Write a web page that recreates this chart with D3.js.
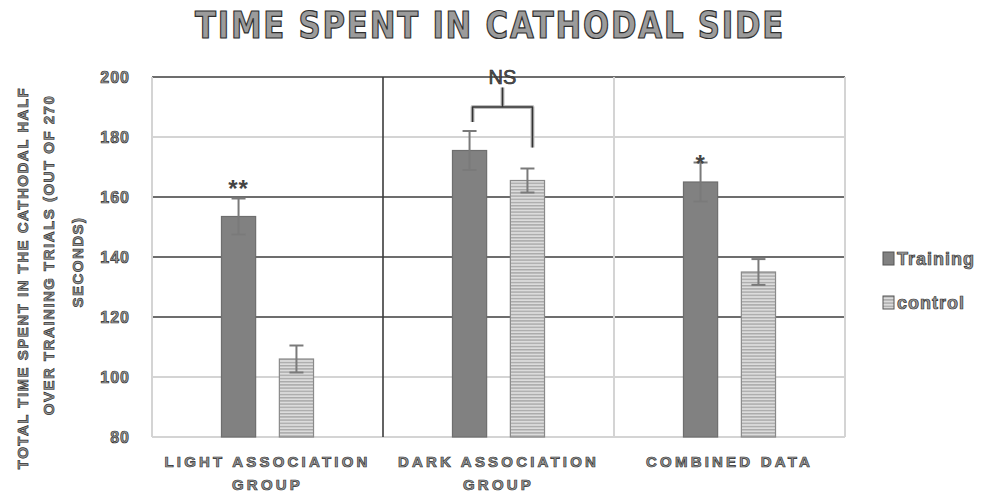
<!DOCTYPE html>
<html>
<head>
<meta charset="utf-8">
<script src="https://cdn.jsdelivr.net/npm/d3@7"></script>
<style>
  body { margin: 0; background: #fff; }
  svg { display: block; }
  .outline { fill: #9b9b9b; stroke: #2e2e2e; stroke-width: 0.7px; font-weight: bold; }
</style>
</head>
<body>
<svg class="chart"></svg>
<script>
// data
var categoryLines = [["LIGHT ASSOCIATION", "GROUP"], ["DARK ASSOCIATION", "GROUP"], ["COMBINED DATA"]];
var seriesNames = ["Training", "control"];
var trainingMeans = [153.5, 175.5, 165];
var trainingErrors = [6, 6.5, 6.5];
var controlMeans = [106, 165.5, 135];
var controlErrors = [4.5, 4, 4.3];
var yTicks = [80, 100, 120, 140, 160, 180, 200];
var stars = ["**", "", "*"];

//set up chart
var margin = {top: 77, right: 137, bottom: 56, left: 152};
var width = 693;
var height = 360;

var svg = d3.select(".chart")
    .attr("width", width + margin.left + margin.right)
    .attr("height", height + margin.top + margin.bottom);

var defs = svg.append("defs");
var pat = defs.append("pattern")
    .attr("id", "stripes")
    .attr("patternUnits", "userSpaceOnUse")
    .attr("width", 8).attr("height", 3.2);
pat.append("rect").attr("width", 8).attr("height", 3.2).attr("fill", "#dcdcdc");
pat.append("rect").attr("width", 8).attr("height", 1.4).attr("fill", "#a9a9a9");

var chart = svg.append("g")
    .attr("transform", "translate(" + margin.left + "," + margin.top + ")");

var xChart = d3.scaleBand()
    .domain(d3.range(categoryLines.length))
    .range([0, width]);

var xSub = d3.scaleBand()
    .domain(seriesNames)
    .range([0, xChart.bandwidth()])
    .paddingInner(0.41)
    .paddingOuter(1.2);

var yChart = d3.scaleLinear()
    .domain([80, 200])
    .range([height, 0]);

var darkTicks = [200, 160, 140, 120];

//gridlines
chart.selectAll(".grid")
    .data(yTicks)
    .enter().append("line")
    .attr("x1", 0).attr("x2", width)
    .attr("y1", function(d){ return yChart(d); })
    .attr("y2", function(d){ return yChart(d); })
    .attr("stroke", function(d){ return darkTicks.indexOf(d) >= 0 ? "#3c3c3c" : "#d4d4d4"; })
    .attr("stroke-width", function(d){ return darkTicks.indexOf(d) >= 0 ? 1.6 : 2; });

//vertical separators
chart.selectAll(".sep")
    .data(d3.range(categoryLines.length + 1))
    .enter().append("line")
    .attr("x1", function(i){ return i * xChart.step(); })
    .attr("x2", function(i){ return i * xChart.step(); })
    .attr("y1", 0).attr("y2", height)
    .attr("stroke", function(i){ return i == 1 ? "#3c3c3c" : "#d4d4d4"; })
    .attr("stroke-width", function(i){ return i == 1 ? 1.6 : 2; });

//left axis labels
var yAxis = d3.axisLeft(yChart).tickValues(yTicks).tickSize(0).tickPadding(22);
var yG = chart.append("g").call(yAxis);
yG.select(".domain").remove();
yG.selectAll("text")
    .attr("class", "outline")
    .style("font-family", "Liberation Sans, Arial, sans-serif")
    .style("font-size", "16px")
    .style("letter-spacing", "1px");

//bars
var rows = d3.range(categoryLines.length).map(function(i){
    return [
        {cat: i, name: "Training", value: trainingMeans[i], err: trainingErrors[i]},
        {cat: i, name: "control", value: controlMeans[i], err: controlErrors[i]}
    ];
});

var groups = chart.selectAll(".group")
    .data(rows)
    .enter().append("g")
    .attr("transform", function(d, i){ return "translate(" + xChart(i) + ",0)"; });

groups.selectAll(".bar")
    .data(function(d){ return d; })
    .enter().append("rect")
    .attr("class", "bar")
    .attr("x", function(d){ return xSub(d.name); })
    .attr("y", function(d){ return yChart(d.value); })
    .attr("width", xSub.bandwidth())
    .attr("height", function(d){ return height - yChart(d.value); })
    .attr("fill", function(d){ return d.name == "Training" ? "#818181" : "url(#stripes)"; })
    .attr("stroke", function(d){ return d.name == "Training" ? "#6e6e6e" : "#8a8a8a"; })
    .attr("stroke-width", 1.2);

//error bars
var errG = groups.selectAll(".err")
    .data(function(d){ return d; })
    .enter().append("g")
    .attr("stroke", "#7a7a7a")
    .attr("stroke-width", 2);
errG.append("line")
    .attr("x1", function(d){ return xSub(d.name) + xSub.bandwidth() / 2; })
    .attr("x2", function(d){ return xSub(d.name) + xSub.bandwidth() / 2; })
    .attr("y1", function(d){ return yChart(d.value + d.err); })
    .attr("y2", function(d){ return yChart(d.value - d.err); });
errG.selectAll(".cap")
    .data(function(d){ return [d.value + d.err, d.value - d.err].map(function(v){ return {name: d.name, v: v}; }); })
    .enter().append("line")
    .attr("x1", function(d){ return xSub(d.name) + xSub.bandwidth() / 2 - 7; })
    .attr("x2", function(d){ return xSub(d.name) + xSub.bandwidth() / 2 + 7; })
    .attr("y1", function(d){ return yChart(d.v); })
    .attr("y2", function(d){ return yChart(d.v); });

//significance stars
groups.append("text")
    .attr("x", xSub("Training") + xSub.bandwidth() / 2)
    .attr("y", function(d, i){ return yChart(trainingMeans[i] + trainingErrors[i]) + (i == 0 ? -2 : 9); })
    .attr("text-anchor", "middle")
    .style("font-family", "Liberation Sans, Arial, sans-serif")
    .style("font-weight", "bold")
    .style("font-size", "24px")
    .style("letter-spacing", "1px")
    .style("fill", "#444")
    .text(function(d, i){ return stars[i]; });

//NS bracket over dark group
var bx1 = xChart(1) + xSub("Training") + xSub.bandwidth() / 2 + 3;
var bx2 = xChart(1) + xSub("control") + xSub.bandwidth() / 2 + 5;
var bracket = chart.append("g").attr("fill", "none").attr("stroke-linejoin", "round");
var bpath = "M" + bx1 + "," + yChart(185) + "V" + yChart(190) + "H" + bx2 + "V" + yChart(176.5)
    + "M" + ((bx1 + bx2) / 2) + "," + yChart(190) + "V" + yChart(196.5);
bracket.append("path").attr("d", bpath).attr("stroke", "#bdbdbd").attr("stroke-width", 4);
bracket.append("path").attr("d", bpath).attr("stroke", "#333").attr("stroke-width", 1.6);
chart.append("text")
    .attr("x", (bx1 + bx2) / 2)
    .attr("y", yChart(196.5) - 4)
    .attr("text-anchor", "middle")
    .style("font-family", "Liberation Sans, Arial, sans-serif")
    .style("font-size", "20px")
    .style("fill", "#555")
    .style("stroke", "#222").style("stroke-width", "0.6px")
    .text("NS");

//category labels
var catG = chart.selectAll(".cat")
    .data(categoryLines)
    .enter().append("text")
    .attr("class", "outline")
    .attr("text-anchor", "middle")
    .attr("transform", function(d, i){ return "translate(" + (xChart(i) + xChart.bandwidth() / 2) + "," + (height + 30) + ")"; })
    .style("font-family", "Liberation Sans, Arial, sans-serif")
    .style("font-size", "15px")
    .style("letter-spacing", "3.2px");
catG.selectAll("tspan")
    .data(function(d){ return d; })
    .enter().append("tspan")
    .attr("x", 0)
    .attr("dy", function(d, i){ return i == 0 ? 0 : 23; })
    .text(function(d){ return d; });

//y axis title
var yTitle = ["TOTAL TIME SPENT IN THE CATHODAL HALF", "OVER TRAINING TRIALS (OUT OF 270", "SECONDS)"];
var yTitleX = [28, 54, 83];
var yTitleY = [278, 255, 262];
svg.selectAll(".ytitle")
    .data(yTitle)
    .enter().append("text")
    .attr("class", "outline")
    .attr("text-anchor", "middle")
    .attr("transform", function(d, i){ return "translate(" + yTitleX[i] + "," + yTitleY[i] + ") rotate(-90)"; })
    .style("font-family", "Liberation Sans, Arial, sans-serif")
    .style("font-size", "15px")
    .style("letter-spacing", "1.5px")
    .text(function(d){ return d; });

//title
svg.append("text")
    .attr("class", "outline")
    .attr("x", 490)
    .attr("y", 38)
    .attr("text-anchor", "middle")
    .attr("textLength", 590)
    .attr("lengthAdjust", "spacingAndGlyphs")
    .style("font-family", "DejaVu Sans Condensed, sans-serif")
    .style("font-size", "38px")
    .style("stroke-width", "1.2px")
    .style("letter-spacing", "2px")
    .text("TIME SPENT IN CATHODAL SIDE");

//legend
var legend = svg.selectAll(".legend")
    .data(seriesNames)
    .enter().append("g")
    .attr("transform", function(d, i){ return "translate(883," + (252 + i * 44) + ")"; });
legend.append("rect")
    .attr("width", 11).attr("height", 13)
    .attr("fill", function(d){ return d == "Training" ? "#818181" : "url(#stripes)"; })
    .attr("stroke", "#555").attr("stroke-width", 1);
legend.append("text")
    .attr("class", "outline")
    .attr("x", 14)
    .attr("y", 13)
    .style("font-family", "Liberation Sans, Arial, sans-serif")
    .style("font-size", "18px")
    .style("letter-spacing", "1px")
    .text(function(d){ return d; });
</script>
</body>
</html>
